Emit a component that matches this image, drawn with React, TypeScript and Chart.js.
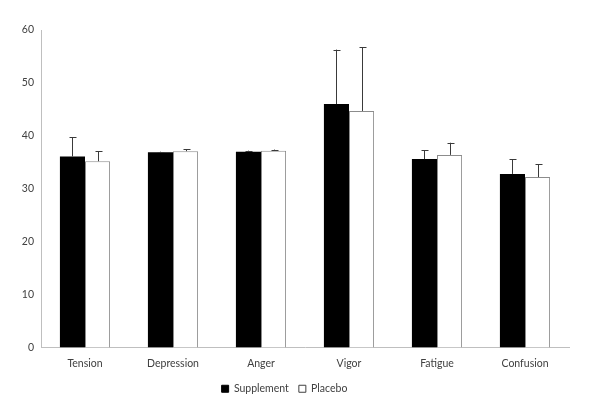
import React, { useEffect, useRef } from "react";
import { Chart, registerables } from "chart.js";

Chart.register(...registerables);

const categories = ["Tension", "Depression", "Anger", "Vigor", "Fatigue", "Confusion"];
const supplement = [36.1, 36.9, 37.0, 46.0, 35.6, 32.8];
const placebo = [35.2, 37.1, 37.2, 44.7, 36.4, 32.2];
const supplementErr = [3.6, 0.1, 0.2, 10.3, 1.7, 2.8];
const placeboErr = [1.9, 0.4, 0.2, 12.0, 2.3, 2.4];
const yTicks = [0, 10, 20, 30, 40, 50, 60];

const FONT = "Lato, 'Liberation Sans', sans-serif";

const errorBarPlugin = {
  id: "errorBars",
  afterDatasetsDraw(chart: any) {
    const ctx = chart.ctx;
    const errs = [supplementErr, placeboErr];
    const yScale = chart.scales.y;
    chart.data.datasets.forEach((ds: any, di: number) => {
      const meta = chart.getDatasetMeta(di);
      meta.data.forEach((bar: any, i: number) => {
        const v = ds.data[i];
        const e = errs[di][i];
        const x = Math.round(bar.x) + 0.5;
        const y0 = yScale.getPixelForValue(v);
        const y1 = yScale.getPixelForValue(v + e);
        ctx.save();
        ctx.strokeStyle = "#3a3a3a";
        ctx.lineWidth = 1;
        ctx.beginPath();
        ctx.moveTo(x, y0);
        ctx.lineTo(x, y1);
        ctx.moveTo(x - 3, Math.round(y1) + 0.5);
        ctx.lineTo(x + 4, Math.round(y1) + 0.5);
        ctx.stroke();
        ctx.restore();
      });
    });
  },
};

export default function App() {
  const ref = useRef<HTMLCanvasElement>(null);
  useEffect(() => {
    if (!ref.current) return;
    const chart = new Chart(ref.current, {
      type: "bar",
      data: {
        labels: categories,
        datasets: [
          {
            label: "Supplement",
            data: supplement,
            backgroundColor: "#000000",
            borderColor: "#000000",
            borderWidth: 0,
            categoryPercentage: 0.57,
            barPercentage: 1,
          },
          {
            label: "Placebo",
            data: placebo,
            backgroundColor: "#ffffff",
            borderColor: "#8c8c8c",
            borderWidth: 1,
            categoryPercentage: 0.57,
            barPercentage: 1,
          },
        ],
      },
      options: {
        animation: false,
        responsive: false,
        layout: { padding: { left: 0, right: 31, top: 30, bottom: 12 } },
        plugins: {
          legend: {
            position: "bottom",
            labels: {
              boxWidth: 7,
              boxHeight: 7,
              color: "#404040",
              font: { family: FONT, size: 10.5 },
              padding: 10,
              generateLabels: (c: any) =>
                c.data.datasets.map((ds: any, i: number) => ({
                  text: ds.label,
                  fillStyle: ds.backgroundColor,
                  strokeStyle: i === 0 ? "#000000" : "#404040",
                  lineWidth: 1,
                  datasetIndex: i,
                  fontColor: "#404040",
                })),
            },
          },
          tooltip: { enabled: false },
        },
        scales: {
          x: {
            grid: { display: false, drawTicks: false },
            border: { color: "#bfbfbf", width: 1 },
            ticks: {
              color: "#404040",
              font: { family: FONT, size: 10.5 },
              padding: 10,
              maxRotation: 0,
            },
            afterFit: (s: any) => {
              s.height = 26;
            },
          },
          y: {
            min: 0,
            max: 60,
            grid: { display: false, drawTicks: false },
            border: { color: "#bfbfbf", width: 1 },
            afterBuildTicks: (s: any) => {
              s.ticks = yTicks.map((v) => ({ value: v }));
            },
            ticks: {
              color: "#404040",
              font: { family: FONT, size: 10.5 },
              padding: 7,
            },
            afterFit: (s: any) => {
              s.width = 41;
            },
          },
        },
      },
      plugins: [errorBarPlugin],
    });
    return () => chart.destroy();
  }, []);
  return (
    <div style={{ position: "absolute", left: 0, top: 0, width: 600, height: 416, background: "#fff" }}>
      <canvas ref={ref} width={600} height={416} />
    </div>
  );
}
